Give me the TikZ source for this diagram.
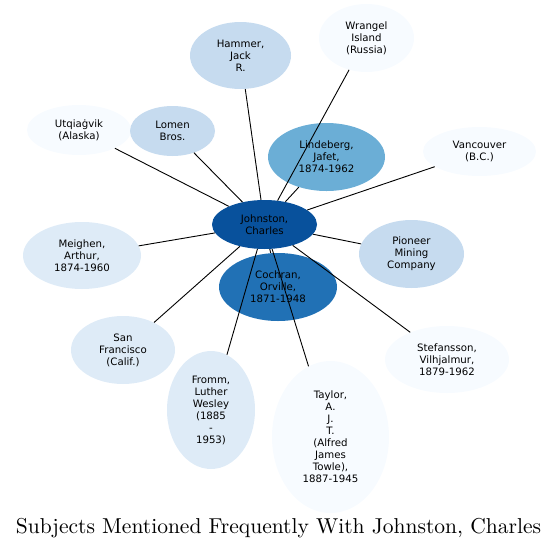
\documentclass[tikz,border=0pt]{standalone}
\usepackage{fontspec}
\usetikzlibrary{shapes.geometric}
\newfontfamily\nodefont{DejaVu Sans}
\definecolor{cA}{HTML}{08519C}
\definecolor{cB}{HTML}{2171B5}
\definecolor{cC}{HTML}{6BAED6}
\definecolor{cD}{HTML}{C6DBEF}
\definecolor{cE}{HTML}{DEEBF7}
\definecolor{cF}{HTML}{F7FBFF}
\tikzset{
  bub/.style={ellipse, draw=none, inner sep=0pt, align=center,
    font=\nodefont\fontsize{10.2}{12}\selectfont, text=black},
  link/.style={draw=black, line width=0.9pt}
}
\begin{document}
\begin{tikzpicture}[x=1pt,y=-1pt]
\useasboundingbox (0,0) rectangle (559,549);
\node[bub, fill=cD, minimum width=101, minimum height=67] (hammer) at (240.5,55.5) {Hammer,\\Jack\\R.};
\node[bub, fill=cF, minimum width=95, minimum height=68] (wrangel) at (366.5,38) {Wrangel\\Island\\(Russia)};
\node[bub, fill=cF, minimum width=104, minimum height=50] (utq) at (79,130) {Utqiaġvik\\(Alaska)};
\node[bub, fill=cD, minimum width=85, minimum height=50] (lomen) at (172.5,131) {Lomen\\Bros.};
\node[bub, fill=cC, minimum width=117, minimum height=68] (lind) at (326.5,157) {Lindeberg,\\Jafet,\\1874-1962};
\node[bub, fill=cF, minimum width=113, minimum height=49] (vanc) at (479.5,151.5) {Vancouver\\(B.C.)};
\node[bub, fill=cE, minimum width=118, minimum height=67] (meig) at (82,255.5) {Meighen,\\Arthur,\\1874-1960};
\node[bub, fill=cD, minimum width=105, minimum height=68] (pion) at (411.5,254) {Pioneer\\Mining\\Company};
\node[bub, fill=cB, minimum width=118, minimum height=68] (coch) at (278,287) {Cochran,\\Orville,\\1871-1948};
\node[bub, fill=cA, minimum width=105, minimum height=49] (john) at (264.5,224.5) {Johnston,\\Charles};
\node[bub, fill=cE, minimum width=104, minimum height=68] (sanf) at (123,350) {San\\Francisco\\(Calif.)};
\node[bub, fill=cF, minimum width=124, minimum height=67] (stef) at (447,359.5) {Stefansson,\\Vilhjalmur,\\1879-1962};
\node[bub, fill=cE, minimum width=88, minimum height=118] (fromm) at (211,410) {Fromm,\\Luther\\Wesley\\(1885\\-\\1953)};
\node[bub, fill=cF, minimum width=117, minimum height=152] (taylor) at (330.5,437) {Taylor,\\A.\\J.\\T.\\(Alfred\\James\\Towle),\\1887-1945};
\foreach \n in {hammer,wrangel,utq,lomen,lind,vanc,meig,pion,coch,sanf,stef,fromm,taylor}
  \draw[link] (john) -- (\n);
\node[anchor=base, inner sep=0pt] (title) at (278.5,533) {\resizebox{525pt}{!}{Subjects Mentioned Frequently With Johnston, Charles}};
\end{tikzpicture}
\end{document}
